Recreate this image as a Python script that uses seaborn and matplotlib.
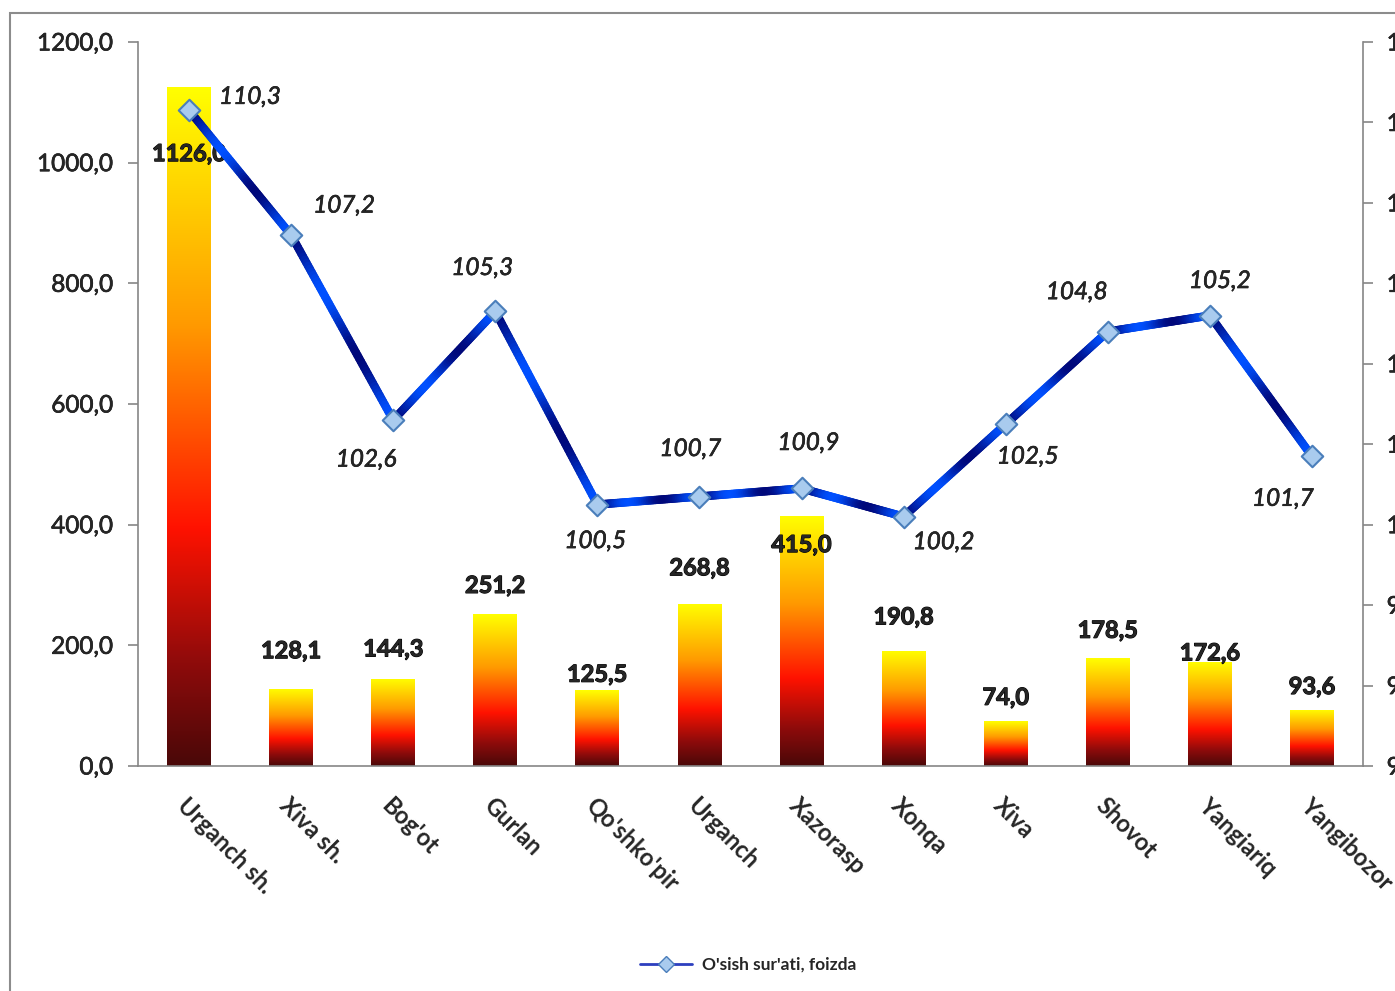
import numpy as np
import pandas as pd
import matplotlib
matplotlib.use('Agg')
import matplotlib.pyplot as plt
import matplotlib.patheffects as pe
import seaborn as sns
from matplotlib.colors import LinearSegmentedColormap
from matplotlib.collections import LineCollection
from matplotlib.lines import Line2D
from matplotlib.patches import Rectangle

districts = ['Urganch sh.', 'Xiva sh.', "Bog'ot", 'Gurlan', "Qo'shko'pir", 'Urganch',
             'Xazorasp', 'Xonqa', 'Xiva', 'Shovot', 'Yangiariq', 'Yangibozor']
volume = [1126.0, 128.1, 144.3, 251.2, 125.5, 268.8, 415.0, 190.8, 74.0, 178.5, 172.6, 93.6]
growth = [110.3, 107.2, 102.6, 105.3, 100.5, 100.7, 100.9, 100.2, 102.5, 104.8, 105.2, 101.7]
legend_label = "O'sish sur'ati, foizda"

# label offsets in pixels (style only)
bar_label_dy = [-67, 38, 30, 29, 16, 36, -29, 34, 24, 28, 9, 23]
line_label_dxy = [(61, 13), (53, 29), (-27, -40), (-13, 43), (-2, -37), (-9, 47),
                  (7, 45), (40, -26), (22, -33), (-31, 39), (10, 34), (-29, -43)]

sns.set_style('white')
plt.rcParams['font.family'] = ['Lato', 'DejaVu Sans']
medium = [pe.withStroke(linewidth=0.4, foreground='black')]
strong = [pe.withStroke(linewidth=0.8, foreground='black')]

df = pd.DataFrame({'district': districts, 'volume': volume, 'growth': growth})

fig = plt.figure(figsize=(13.95, 9.91), dpi=100)
ax = fig.add_axes([138 / 1395, 1 - 766 / 991, (1363 - 138) / 1395, (766 - 42) / 991])

sns.barplot(data=df, x='district', y='volume', order=districts, width=0.43, ax=ax,
            color='white', saturation=1, zorder=2)

fire = LinearSegmentedColormap.from_list('fire', [
    (0.0, '#4a0808'), (0.15, '#8e0b0b'), (0.35, '#ff1200'),
    (0.65, '#ff9a00'), (1.0, '#ffff00')])
grad = np.linspace(0, 1, 256).reshape(-1, 1)
for p in ax.patches:
    x0, w, h = p.get_x(), p.get_width(), p.get_height()
    p.set_facecolor('none')
    p.set_edgecolor('none')
    im = ax.imshow(grad, extent=[x0, x0 + w, 0, h], origin='lower', aspect='auto',
                   cmap=fire, zorder=2)
    im.set_clip_path(p)

ax.set_xlim(-0.5, len(districts) - 0.5)
ax.set_ylim(0, 1200)
ax.set_yticks(np.arange(0, 1201, 200))
ax.set_yticklabels([f'{v:.1f}'.replace('.', ',') for v in np.arange(0, 1201, 200)],
                   path_effects=medium)
ax.set_xlabel('')
ax.set_ylabel('')
ax.set_xticks(range(len(districts)))
ax.set_xticklabels(districts, rotation=-45, ha='left', va='top', rotation_mode='anchor',
                   fontsize=17, fontweight='bold')
ax.set_xticks(np.arange(-0.5, len(districts)), minor=True)
ax.tick_params(axis='x', which='major', length=0, pad=20)
ax.tick_params(axis='x', which='minor', length=5, width=1.2, color='#868686', direction='out')
ax.tick_params(axis='y', length=7, width=1.2, color='#868686', direction='out',
               labelsize=17.5, pad=11)
for s in ['left', 'right', 'bottom']:
    ax.spines[s].set_color('#868686')
    ax.spines[s].set_linewidth(1.2)
ax.spines['top'].set_visible(False)

for i, v in enumerate(volume):
    ax.text(i, v, f'{v:.1f}'.replace('.', ','), ha='center', va='center',
            fontsize=17, fontweight='bold', zorder=5, path_effects=strong,
            transform=ax.transData + matplotlib.transforms.ScaledTranslation(
                0, bar_label_dy[i] / 100, fig.dpi_scale_trans))

# growth line on the right axis
ax2 = ax.twinx()
ax2.set_ylim(94, 112)
ax2.set_yticks(np.arange(94, 113, 2))
ax2.set_yticklabels([f'{v:.1f}'.replace('.', ',') for v in np.arange(94, 113, 2)],
                    path_effects=medium)
ax2.tick_params(axis='y', length=7, width=1.2, color='#868686', direction='out',
                labelsize=17.5, pad=10)
for s in ax2.spines.values():
    s.set_visible(False)
ax2.grid(False)

blues = LinearSegmentedColormap.from_list('blues', ['#00087a', '#0050ff'])
segs, cols = [], []
for i in range(len(growth) - 1):
    t = np.linspace(0, 1, 61)
    xs = i + t
    ys = growth[i] + (growth[i + 1] - growth[i]) * t
    for k in range(len(t) - 1):
        segs.append([(xs[k], ys[k]), (xs[k + 1], ys[k + 1])])
        cols.append(0.5 - 0.5 * np.cos(3 * np.pi * (t[k] + t[k + 1]) / 2))
lc = LineCollection(segs, colors=blues(np.array(cols)), linewidths=6, capstyle='round',
                    joinstyle='round', zorder=3)
ax2.add_collection(lc)
sns.scatterplot(x=np.arange(len(growth)), y=growth, marker='D', s=120, color='#a9cbee',
                edgecolor='#4a7ebb', linewidth=1.5, zorder=4, ax=ax2, legend=False)
ax2.set_xlim(-0.5, len(districts) - 0.5)

for i, g in enumerate(growth):
    dx, dy = line_label_dxy[i]
    ax2.annotate(f'{g:.1f}'.replace('.', ','), xy=(i, g), xytext=(dx, dy),
                 textcoords='offset pixels', ha='center', va='center',
                 fontsize=17.5, fontstyle='italic', zorder=5, path_effects=medium)

handle = Line2D([], [], color='#2d3fbf', lw=2, marker='D', markersize=8,
                markerfacecolor='#a9cbee', markeredgecolor='#4a7ebb')
fig.legend(handles=[handle], labels=[legend_label], loc='center',
           bbox_to_anchor=(748 / 1395, 1 - 965 / 991), frameon=False,
           handlelength=3.0, handletextpad=0.6,
           prop={'size': 12.5, 'weight': 'bold'})

fig.patches.append(Rectangle((10 / 1395, -0.1), 2, (991 - 13) / 991 + 0.1,
                             transform=fig.transFigure, fill=False,
                             edgecolor='#8c8c8c', linewidth=1.5))

fig.savefig('out.png', dpi=100)
